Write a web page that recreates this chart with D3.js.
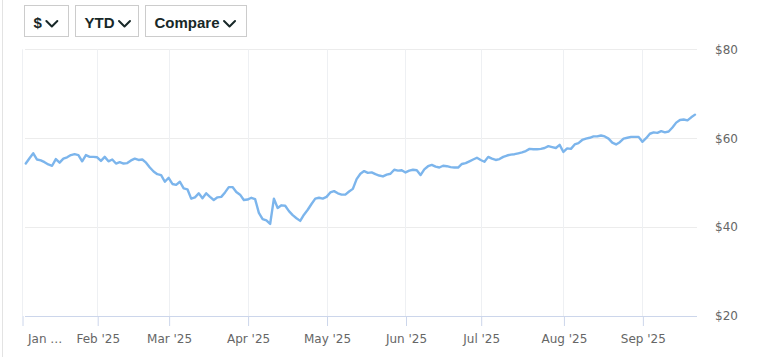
<!DOCTYPE html>
<html>
<head>
<meta charset="utf-8">
<script src="https://cdn.jsdelivr.net/npm/d3@7"></script>
<style>
  html, body { margin: 0; padding: 0; background: #fff; }
  svg { display: block; }
</style>
</head>
<body>
<svg id="chart" width="769" height="357"></svg>
<script>
// ---- data ----
const monthTickIndex = [0, 20, 39, 60, 81, 102, 122, 144, 165];
const monthLabels = ["Jan …", "Feb '25", "Mar '25", "Apr '25", "May '25", "Jun '25", "Jul '25", "Aug '25", "Sep '25"];
const priceValues = [
  54.3, 55.5, 56.6, 55.2, 55.0, 54.6, 54.1, 53.8, 55.3, 54.5,
  55.4, 55.7, 56.2, 56.4, 56.2, 54.8, 56.2, 55.8, 55.8, 55.7,
  54.9, 55.8, 54.8, 55.2, 54.3, 54.6, 54.3, 54.4, 55.0, 55.4,
  55.1, 55.2, 54.5, 53.4, 52.5, 51.9, 51.7, 50.2, 51.1, 49.7,
  49.5, 50.2, 48.7, 48.5, 46.4, 46.7, 47.6, 46.5, 47.6, 46.8,
  46.1, 46.7, 46.8, 47.8, 49.0, 49.0, 47.9, 47.3, 46.1, 46.2,
  46.6, 46.3, 43.2, 41.8, 41.5, 40.7, 46.4, 44.3, 44.9, 44.8,
  43.6, 42.7, 42.0, 41.4, 42.8, 43.9, 45.2, 46.4, 46.6, 46.4,
  46.8, 47.8, 48.1, 47.6, 47.3, 47.3, 48.0, 48.6, 50.8, 52.0,
  52.6, 52.2, 52.3, 51.9, 51.6, 51.4, 51.8, 52.0, 52.9, 52.7,
  52.8, 52.3, 52.7, 52.9, 52.8, 51.7, 53.0, 53.7, 54.0, 53.6,
  53.4, 53.8, 53.7, 53.5, 53.4, 53.4, 54.2, 54.4, 54.8, 55.2,
  55.6, 55.1, 54.7, 55.8, 55.4, 55.1, 55.3, 55.8, 56.1, 56.3,
  56.4, 56.6, 56.8, 57.1, 57.6, 57.5, 57.5, 57.6, 57.8, 58.2,
  58.0, 57.8, 58.5, 56.9, 57.7, 57.6, 58.6, 58.9, 59.6, 59.9,
  60.1, 60.4, 60.4, 60.6, 60.4, 59.9, 59.0, 58.6, 59.1, 59.9,
  60.1, 60.3, 60.3, 60.3, 59.2, 60.0, 61.0, 61.3, 61.2, 61.6,
  61.3, 61.5, 62.4, 63.5, 64.1, 64.2, 64.0, 64.7, 65.3
];
const yTickValues = [20, 40, 60, 80];
const yTickLabels = ["$20", "$40", "$60", "$80"];
const buttonLabels = ["$", "YTD", "Compare"];

// ---- layout ----
const svg = d3.select("#chart");
const plotLeft = 25, plotRight = 697, plotTop = 49.3, plotBottom = 316;
const x = d3.scaleLinear().domain([0, priceValues.length]).range([22, 695]);
const y = d3.scaleLinear().domain([20, 80]).range([plotBottom, plotTop]);

// far-left border
svg.append("line")
  .attr("x1", 2.5).attr("x2", 2.5).attr("y1", 0).attr("y2", 357)
  .attr("stroke", "#e3e3e3").attr("stroke-width", 1);

// buttons
const btnLayout = [
  { x: 24.5, w: 44 },
  { x: 75.5, w: 63 },
  { x: 145.5, w: 101 }
];
const btn = svg.append("g").selectAll("g").data(buttonLabels).join("g")
  .attr("transform", (d, i) => `translate(${btnLayout[i].x},5.5)`);
btn.append("rect")
  .attr("width", (d, i) => btnLayout[i].w).attr("height", 31)
  .attr("fill", "#fff").attr("stroke", "#cccccc").attr("stroke-width", 1);
btn.each(function (d, i) {
  const g = d3.select(this);
  const t = g.append("text")
    .attr("x", 9).attr("y", 22)
    .attr("font-family", "'Liberation Sans', Arial, sans-serif")
    .attr("font-weight", "bold").attr("font-size", 15)
    .attr("fill", "#182828").text(d);
  const tw = t.node().getComputedTextLength();
  const cx = 9 + tw + 4.5;
  g.append("path")
    .attr("d", `M${cx},${15.5} L${cx + 5.5},${21} L${cx + 11},${15.5}`)
    .attr("fill", "none").attr("stroke", "#182828").attr("stroke-width", 2)
    .attr("stroke-linecap", "round").attr("stroke-linejoin", "round");
});

// horizontal grid
svg.append("g").selectAll("line").data(yTickValues.filter(v => v !== 20)).join("line")
  .attr("x1", plotLeft).attr("x2", plotRight)
  .attr("y1", d => Math.round(y(d)) + 0.5).attr("y2", d => Math.round(y(d)) + 0.5)
  .attr("stroke", "#ececec").attr("stroke-width", 1);

// vertical grid
svg.append("g").selectAll("line").data(monthTickIndex).join("line")
  .attr("x1", d => Math.round(x(d)) + 0.5).attr("x2", d => Math.round(x(d)) + 0.5)
  .attr("y1", plotTop).attr("y2", plotBottom)
  .attr("stroke", "#eef0f3").attr("stroke-width", 1);

// x axis
const xAxis = d3.axisBottom(x)
  .tickValues(monthTickIndex)
  .tickFormat((d, i) => monthLabels[i])
  .tickSize(10).tickPadding(8);
const gx = svg.append("g").attr("transform", `translate(0.5,${plotBottom})`).call(xAxis);
gx.select(".domain").remove();
gx.selectAll(".tick line").attr("stroke", "#ccd6eb");
gx.selectAll(".tick text")
  .attr("font-family", "'DejaVu Sans', sans-serif").attr("font-size", 12)
  .attr("fill", "#666666");
gx.selectAll(".tick text").filter((d, i) => i === 0)
  .attr("text-anchor", "start").attr("x", 5);
svg.append("line")
  .attr("x1", plotLeft).attr("x2", plotRight)
  .attr("y1", plotBottom + 0.5).attr("y2", plotBottom + 0.5)
  .attr("stroke", "#ccd6eb").attr("stroke-width", 1);

// y axis (labels on right)
const yAxis = d3.axisRight(y)
  .tickValues(yTickValues)
  .tickFormat((d, i) => yTickLabels[i])
  .tickSize(0).tickPadding(0);
const gy = svg.append("g").attr("transform", `translate(715,0)`).call(yAxis);
gy.select(".domain").remove();
gy.selectAll(".tick text")
  .attr("font-family", "'DejaVu Sans', sans-serif").attr("font-size", 12)
  .attr("fill", "#666666");

// price line
const line = d3.line()
  .x((d, i) => x(i + 1))
  .y(d => y(d))
  .curve(d3.curveLinear);
svg.append("path")
  .datum(priceValues)
  .attr("d", line)
  .attr("fill", "none")
  .attr("stroke", "#7cb5ec")
  .attr("stroke-width", 2.4)
  .attr("stroke-linejoin", "round")
  .attr("stroke-linecap", "round");
</script>
</body>
</html>
